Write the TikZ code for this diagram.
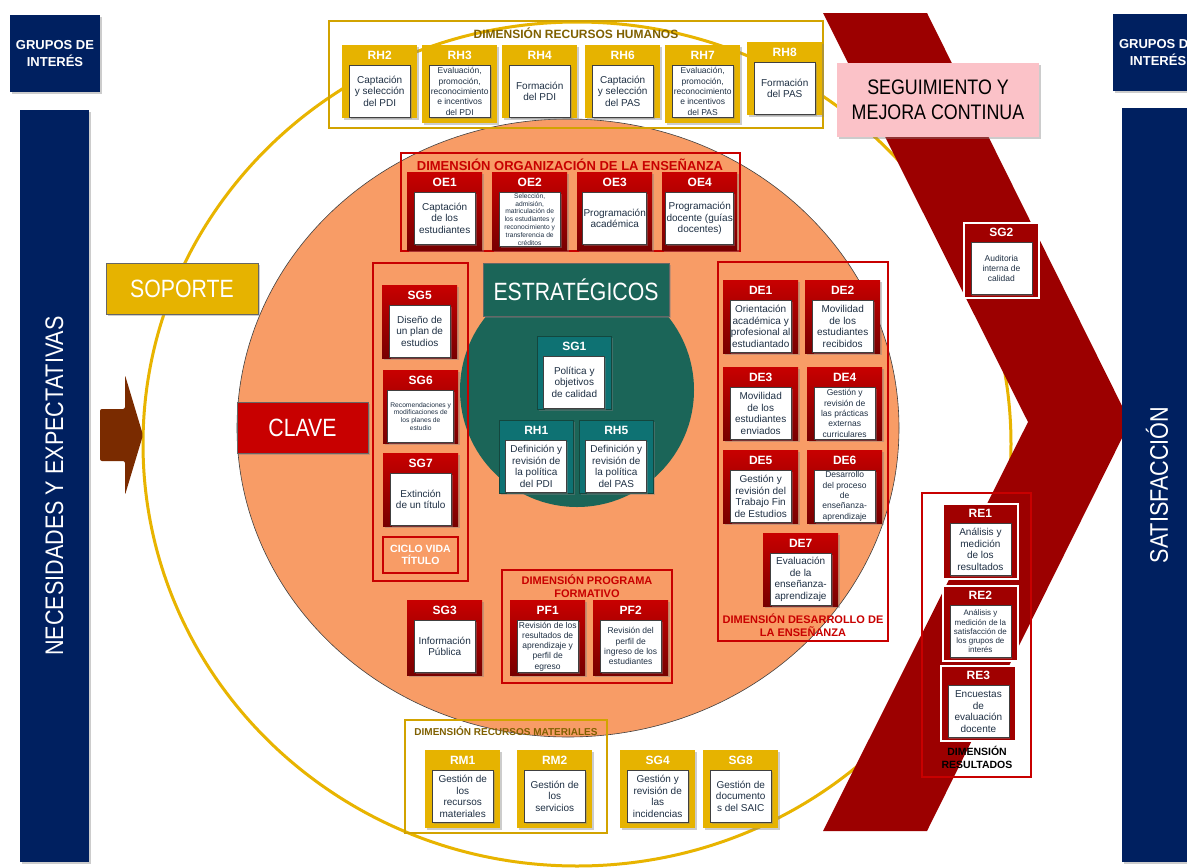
\documentclass[tikz,border=0pt]{standalone}
\usepackage{fontspec}
\setmainfont{Liberation Sans}
\newfontfamily\narrowfont[FakeStretch=0.85]{Liberation Sans}
\usetikzlibrary{shadows}

\definecolor{navy}{HTML}{002060}
\definecolor{ringgold}{HTML}{E8B400}
\definecolor{coreorange}{HTML}{F89C66}
\definecolor{discteal}{HTML}{1B6558}
\definecolor{boxteal}{HTML}{0E7273}
\definecolor{chevred}{HTML}{9C0000}
\definecolor{boxgold}{HTML}{E6B300}
\definecolor{redtop}{HTML}{C80000}
\definecolor{redbot}{HTML}{780000}
\definecolor{resred}{HTML}{A00000}
\definecolor{framered}{HTML}{C80000}
\definecolor{framegold}{HTML}{D2A300}
\definecolor{titlegold}{HTML}{7F6000}
\definecolor{bodyink}{HTML}{1F3044}
\definecolor{pinkbox}{HTML}{FBC2C8}
\definecolor{entrybrown}{HTML}{7A2B00}

\tikzset{
  soft shadow/.style={drop shadow={shadow xshift=1.5pt,shadow yshift=-1.5pt,opacity=.4}},
  ring/.style={draw=ringgold, line width=3},
  core/.style={fill=coreorange, draw=black!75, line width=.6},
  navybox/.style={fill=navy, text=white, align=center, inner sep=0pt, soft shadow,
    font=\bfseries\fontsize{13}{17}\selectfont},
  biglabel/.style={text=white, font=\narrowfont\fontsize{25.4}{28}\selectfont},
  banner/.style={draw=black!60, line width=.5, text=white, inner sep=0pt, soft shadow,
    font=\narrowfont\fontsize{25}{28}\selectfont},
  box/.style={minimum width=75, minimum height=73, inner sep=0pt, soft shadow},
  goldbox/.style={box, fill=boxgold},
  redbox/.style={box, top color=redtop, bottom color=redbot},
  tealbox/.style={box, minimum width=74, fill=boxteal, draw=discteal!70!black, line width=.6},
  resbox/.style={box, minimum height=75, fill=resred, draw=white, line width=1.8},
  code/.style={text=white, font=\bfseries\fontsize{12}{12}\selectfont},
  body/.style={fill=white, draw=black!75, line width=.7, minimum width=61, minimum height=52,
    inner sep=1pt, align=center, text=bodyink, soft shadow, font=\fontsize{10}{11.5}\selectfont},
  small body/.style={body, font=\fontsize{8.5}{10.3}\selectfont},
  tiny body/.style={body, font=\fontsize{6.7}{7.8}\selectfont},
  goldframe/.style={draw=framegold, line width=2},
  redframe/.style={draw=framered, line width=2},
  goldtitle/.style={text=titlegold, font=\bfseries\fontsize{12}{12}\selectfont},
  redtitle/.style={text=framered, align=center, font=\bfseries\fontsize{11}{13}\selectfont},
}

% #1 inner style, #2 outer style, #3 name, #4 left, #5 top, #6 code, #7 text
\newcommand{\procbox}[7][body]{%
  \node[#2, anchor=north west] (#3) at (#4,#5) {};
  \node[code] at ([yshift=-10]#3.north) {#6};
  \node[#1, anchor=north] (#3txt) at ([yshift=-20]#3.north) {#7};
}

\begin{document}
\begin{tikzpicture}[x=1pt,y=-1pt]
	\useasboundingbox (0,0) rectangle (1187,868);
	\clip (0,0) rectangle (1187,868);
	\fill[white] (0,0) rectangle (1187,868);

	% anillos
	\draw[ring] (577,444) ellipse [x radius=434, y radius=422];
	\filldraw[core] (568,428) ellipse [x radius=331, y radius=309];
	\fill[discteal] (577,390) circle [radius=117];

	% flecha de seguimiento
	\fill[chevred] (823,13) -- (927,13) -- (1130,422) -- (927,831) -- (823,831) -- (1028,422) -- cycle;

	% grupos de interes
	\node[navybox, minimum width=90, minimum height=77] (gil) at (55,53.5) {GRUPOS DE\\INTERÉS};
	\node[navybox, minimum width=90, minimum height=77] (gir) at (1158,52.5) {GRUPOS DE\\INTERÉS};
	\node[navybox, minimum width=69, minimum height=752] (nec) at (54.5,486) {};
	\node[biglabel, rotate=90] at (nec) {NECESIDADES Y EXPECTATIVAS};
	\node[navybox, minimum width=70, minimum height=754] (sat) at (1157,485) {};
	\node[biglabel, rotate=90] at (sat) {SATISFACCIÓN};

	\fill[entrybrown, rounded corners=2] (100,409) -- (125,409) -- (125,375) -- (143,435)
		-- (125,495) -- (125,461) -- (100,461) -- cycle;

	% marcos de dimensiones
	\draw[goldframe] (329,21) rectangle (823,128);
	\draw[redframe] (401,153) rectangle (740,251);
	\draw[redframe] (373,263) rectangle (468,581);
	\draw[redframe] (718,262) rectangle (888,641);
	\draw[redframe] (502,570) rectangle (672,683);
	\draw[goldframe] (405,720) rectangle (607,833);
	\draw[redframe] (922,493) rectangle (1031,777);

	\node[goldtitle] (rhtit) at (576,33) {DIMENSIÓN RECURSOS HUMANOS};
	\node[redtitle, font=\bfseries\fontsize{13}{13}\selectfont] (oetit) at (570,165) {DIMENSIÓN ORGANIZACIÓN DE LA ENSEÑANZA};
	\node[redtitle] (detit) at (803,625) {DIMENSIÓN DESARROLLO DE\\LA ENSEÑANZA};
	\node[redtitle] (pftit) at (587,586) {DIMENSIÓN PROGRAMA\\FORMATIVO};
	\node[goldtitle, font=\bfseries\fontsize{10}{10}\selectfont] (rmtit) at (506,731) {DIMENSIÓN RECURSOS MATERIALES};
	\node[redtitle, text=black, font=\bfseries\fontsize{10.5}{13}\selectfont] (retit) at (977,757) {DIMENSIÓN\\RESULTADOS};

	% etiquetas
	\node[banner, fill=boxgold, minimum width=152, minimum height=51] (soporte) at (182,288.5) {SOPORTE};
	\node[banner, fill=redtop, minimum width=131, minimum height=51] (clave) at (302.5,427.5) {CLAVE};
	\node[banner, fill=discteal, minimum width=186, minimum height=53] (estrat) at (576,289.5) {ESTRATÉGICOS};
	\node[banner, fill=pinkbox, draw=none, text=black, align=center, minimum width=202, minimum height=74,
		font=\narrowfont\fontsize{21}{25}\selectfont] (seguim) at (938,100) {SEGUIMIENTO Y\\MEJORA CONTINUA};
	\node[fill=coreorange, draw=framered, line width=1.5, minimum width=75, minimum height=36, inner sep=0pt,
		text=white, align=center, font=\bfseries\fontsize{10.5}{12.5}\selectfont] (ciclo) at (420.5,555) {CICLO VIDA\\TÍTULO};

	% recursos humanos
	\procbox{goldbox}{rh2}{342}{45}{RH2}{Captación\\y selección\\del PDI}
	\procbox[small body]{goldbox,minimum height=78}{rh3}{422}{45}{RH3}{Evaluación,\\promoción,\\reconocimiento\\e incentivos\\del PDI}
	\procbox{goldbox}{rh4}{502}{45}{RH4}{Formación\\del PDI}
	\procbox{goldbox}{rh6}{585}{45}{RH6}{Captación\\y selección\\del PAS}
	\procbox[small body]{goldbox,minimum height=78}{rh7}{665}{45}{RH7}{Evaluación,\\promoción,\\reconocimiento\\e incentivos\\del PAS}
	\procbox{goldbox}{rh8}{747}{42}{RH8}{Formación\\del PAS}

	% organizacion de la ensenanza
	\procbox{redbox,minimum height=78}{oe1}{407}{172}{OE1}{Captación\\de los\\estudiantes}
	\procbox[tiny body]{redbox,minimum height=78}{oe2}{492}{172}{OE2}{Selección,\\admisión,\\matriculación de\\los estudiantes y\\reconocimiento y\\transferencia de\\créditos}
	\procbox{redbox,minimum height=78}{oe3}{577}{172}{OE3}{Programación\\académica}
	\procbox{redbox,minimum height=78}{oe4}{662}{172}{OE4}{Programación\\docente (guías\\docentes)}

	% ciclo de vida
	\procbox{redbox}{sg5}{382}{285}{SG5}{Diseño de\\un plan de\\estudios}
	\procbox[tiny body, minimum width=66]{redbox}{sg6}{383}{370}{SG6}{Recomendaciones y\\modificaciones de\\los planes de\\estudio}
	\procbox{redbox}{sg7}{383}{453}{SG7}{Extinción\\de un título}

	% estrategicos
	\procbox{tealbox}{sg1}{537}{336}{SG1}{Política y\\objetivos\\de calidad}
	\procbox{tealbox}{rh1}{499}{420}{RH1}{Definición y\\revisión de\\la política\\del PDI}
	\procbox{tealbox}{rh5}{579}{420}{RH5}{Definición y\\revisión de\\la política\\del PAS}

	% desarrollo de la ensenanza
	\procbox{redbox}{de1}{723}{280}{DE1}{Orientación\\académica y\\profesional al\\estudiantado}
	\procbox{redbox}{de2}{805}{280}{DE2}{Movilidad\\de los\\estudiantes\\recibidos}
	\procbox{redbox}{de3}{723}{367}{DE3}{Movilidad\\de los\\estudiantes\\enviados}
	\procbox[small body]{redbox}{de4}{807}{367}{DE4}{Gestión y\\revisión de\\las prácticas\\externas\\curriculares}
	\procbox{redbox}{de5}{723}{450}{DE5}{Gestión y\\revisión del\\Trabajo Fin\\de Estudios}
	\procbox[small body]{redbox}{de6}{807}{450}{DE6}{Desarrollo\\del proceso\\de\\enseñanza-\\aprendizaje}
	\procbox{redbox}{de7}{763}{533}{DE7}{Evaluación\\de la\\enseñanza-\\aprendizaje}

	% programa formativo
	\procbox{redbox,minimum height=75}{sg3}{407}{600}{SG3}{Información\\Pública}
	\procbox[small body]{redbox,minimum height=75}{pf1}{510}{600}{PF1}{Revisión de los\\resultados de\\aprendizaje y\\perfil de\\egreso}
	\procbox[small body]{redbox,minimum height=75}{pf2}{593}{600}{PF2}{Revisión del\\perfil de\\ingreso de los\\estudiantes}

	% recursos materiales
	\procbox{goldbox,minimum height=78}{rm1}{425}{750}{RM1}{Gestión de\\los\\recursos\\materiales}
	\procbox{goldbox,minimum height=78}{rm2}{517}{750}{RM2}{Gestión de\\los\\servicios}
	\procbox{goldbox,minimum height=78}{sg4}{620}{750}{SG4}{Gestión y\\revisión de\\las\\incidencias}
	\procbox{goldbox,minimum height=78}{sg8}{703}{750}{SG8}{Gestión de\\documento\\s del SAIC}

	% seguimiento y resultados
	\procbox[small body]{resbox}{sg2}{963}{222}{SG2}{Auditoria\\interna de\\calidad}
	\procbox{resbox}{re1}{942}{503}{RE1}{Análisis y\\medición\\de los\\resultados}
	\procbox[small body, font=\fontsize{8}{9.2}\selectfont]{resbox}{re2}{942}{585}{RE2}{Análisis y\\medición de la\\satisfacción de\\los grupos de\\interés}
	\procbox{resbox}{re3}{940}{665}{RE3}{Encuestas\\de\\evaluación\\docente}
\end{tikzpicture}
\end{document}
